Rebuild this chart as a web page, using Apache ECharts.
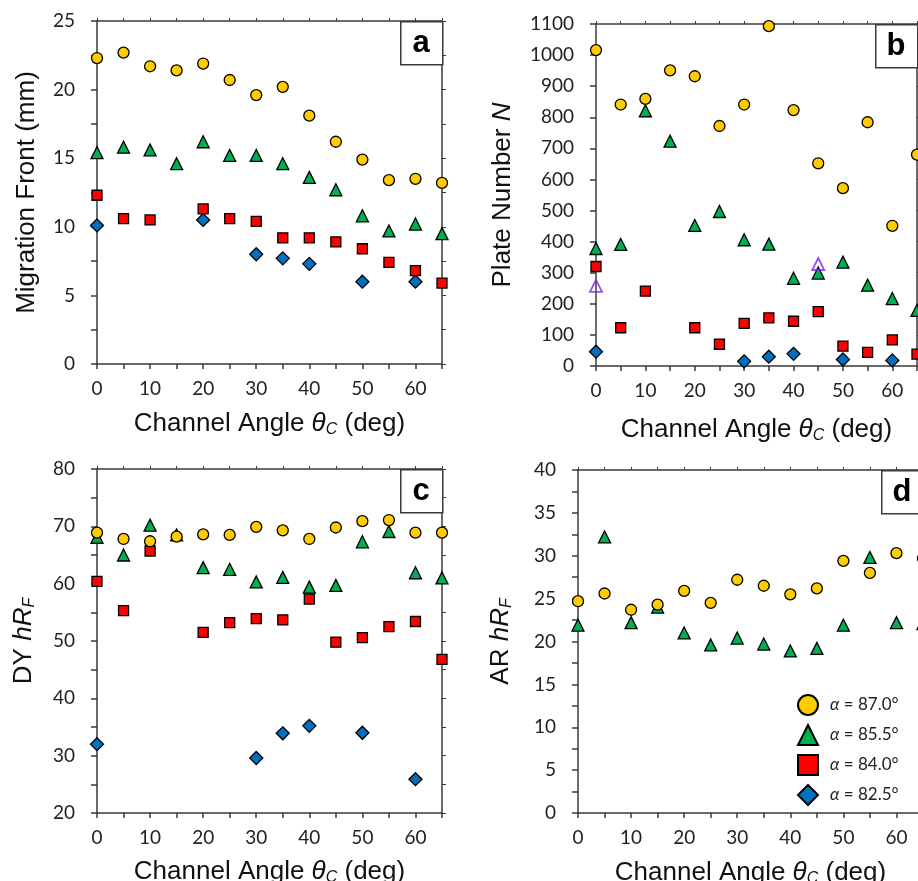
<!DOCTYPE html>
<html>
<head>
<meta charset="utf-8">
<script src="https://cdn.jsdelivr.net/npm/echarts@6/dist/echarts.min.js"></script>
<style>
  html, body { margin: 0; padding: 0; background: #fff; }
  #main { width: 918px; height: 881px; }
</style>
</head>
<body>
<div id="main"></div>
<script>
// channel angle (deg), shared x values of every panel
var ANGLES = [0, 5, 10, 15, 20, 25, 30, 35, 40, 45, 50, 55, 60, 65];
var NAMES = ['α = 87.0°', 'α = 85.5°', 'α = 84.0°', 'α = 82.5°'];

// a: migration front (mm)
var A_870 = [22.3, 22.7, 21.7, 21.4, 21.9, 20.7, 19.6, 20.2, 18.1, 16.2, 14.9, 13.4, 13.5, 13.2];
var A_855 = [15.4, 15.8, 15.6, 14.6, 16.2, 15.2, 15.2, 14.6, 13.6, 12.7, 10.8, 9.7, 10.2, 9.5];
var A_840 = [12.3, 10.6, 10.5, null, 11.3, 10.6, 10.4, 9.2, 9.2, 8.9, 8.4, 7.4, 6.8, 5.9];
var A_825 = [10.1, null, null, null, 10.5, null, 8.0, 7.7, 7.3, null, 6.0, null, 6.0, null];

// b: plate number N
var B_870 = [1016, 841, 859, 951, 932, 772, 841, 1093, 823, 652, 572, 784, 451, 680];
var B_855 = [378, 391, 821, 723, 452, 497, 406, 392, 282, 299, 334, 260, 217, 179];
var B_840 = [320, 123, 241, null, 123, 70, 137, 155, 144, 175, 64, 44, 84, 38];
var B_825 = [46, null, null, null, null, null, 15, 30, 39, null, 21, null, 18, null];
var B_OPEN_X = [0, 45];
var B_OPEN = [258, 328];

// c: DY hRF
var C_870 = [68.9, 67.8, 67.4, 68.2, 68.6, 68.5, 69.9, 69.3, 67.8, 69.8, 70.9, 71.1, 68.9, 68.9];
var C_855 = [68.1, 65.0, 70.2, 68.5, 62.8, 62.5, 60.3, 61.1, 59.4, 59.7, 67.3, 69.1, 61.9, 61.0];
var C_840 = [60.4, 55.3, 65.7, null, 51.5, 53.2, 53.9, 53.7, 57.3, 49.8, 50.6, 52.5, 53.4, 46.8];
var C_825 = [32.0, null, null, null, null, null, 29.6, 33.9, 35.2, null, 34.0, null, 25.9, null];

// d: AR hRF
var D_870 = [24.7, 25.6, 23.7, 24.3, 25.9, 24.5, 27.2, 26.5, 25.5, 26.2, 29.4, 28.0, 30.3, 29.7];
var D_855 = [21.9, 32.2, 22.2, 24.0, 21.0, 19.6, 20.4, 19.7, 18.9, 19.2, 21.9, 29.8, 22.2, 22.1];

var AXIS_COLOR = '#3a3a3a';
var TICK_FONT = 'Lato';
var TITLE_FONT = 'Liberation Sans';

var grids = [
    {left: 97, top: 21, width: 345, height: 343},
    {left: 596, top: 24, width: 321, height: 342},
    {left: 97, top: 469, width: 345, height: 344},
    {left: 578, top: 470, width: 345, height: 343}
];

var nameRich = {
    i: {fontStyle: 'italic', fontFamily: TITLE_FONT, fontSize: 26, color: '#111'},
    sub: {fontStyle: 'italic', fontFamily: TITLE_FONT, fontSize: 16, color: '#111', padding: [12, 0, 0, 0]}
};

function pairs(xs, ys) {
    var out = [];
    for (var k = 0; k < xs.length; k++) {
        if (ys[k] !== null) out.push([xs[k], ys[k]]);
    }
    return out;
}

var xAxes = [], yAxes = [];
var yCfg = [
    {min: 0, max: 25, step: 2.5, label: 5, name: 'Migration Front (mm)', gap: 57},
    {min: 0, max: 1100, step: 100, label: 100, name: 'Plate Number {i|N}', gap: 80},
    {min: 20, max: 80, step: 5, label: 10, name: 'DY {i|hR}{sub|F}', gap: 59},
    {min: 0, max: 40, step: 2.5, label: 5, name: 'AR {i|hR}{sub|F}', gap: 63}
];
var xGaps = [46, 50, 45, 46];

yCfg.forEach(function (c, g) {
    xAxes.push({
        type: 'value', gridIndex: g, position: 'bottom', min: 0, max: 65, interval: 5,
        name: 'Channel Angle {i|θ}{sub|C} (deg)', nameLocation: 'middle', nameGap: xGaps[g],
        nameMoveOverlap: false,
        nameTextStyle: {fontFamily: TITLE_FONT, fontSize: 26, color: '#111', rich: nameRich},
        axisLine: {show: true, onZero: false, lineStyle: {color: AXIS_COLOR, width: 1.5}},
        axisTick: {show: true, inside: false, length: 5, lineStyle: {color: AXIS_COLOR, width: 1.5}},
        axisLabel: {
            show: true, margin: 15, fontFamily: TICK_FONT, fontSize: 19, color: '#222',
            formatter: function (v) { return v % 10 === 0 ? String(v) : ''; }
        },
        splitLine: {show: false}
    });
    xAxes.push({
        type: 'value', gridIndex: g, position: 'top', min: 0, max: 65, interval: 5,
        axisLine: {show: true, onZero: false, lineStyle: {color: AXIS_COLOR, width: 1.5}},
        axisTick: {show: true, inside: false, length: 3, lineStyle: {color: AXIS_COLOR, width: 1}},
        axisLabel: {show: false},
        splitLine: {show: false}
    });
    yAxes.push({
        type: 'value', gridIndex: g, position: 'left', min: c.min, max: c.max, interval: c.step,
        name: c.name, nameLocation: 'middle', nameGap: c.gap, nameRotate: 90,
        nameMoveOverlap: false,
        nameTextStyle: {fontFamily: TITLE_FONT, fontSize: 26, color: '#111', rich: nameRich},
        axisLine: {show: true, onZero: false, lineStyle: {color: AXIS_COLOR, width: 1.5}},
        axisTick: {show: true, inside: false, length: 6, lineStyle: {color: AXIS_COLOR, width: 1.5}},
        axisLabel: {
            show: true, margin: 22, fontFamily: TICK_FONT, fontSize: 19, color: '#222',
            formatter: function (v) {
                return Math.abs(v / c.label - Math.round(v / c.label)) < 1e-6 ? String(v) : '';
            }
        },
        splitLine: {show: false}
    });
    yAxes.push({
        type: 'value', gridIndex: g, position: 'right', min: c.min, max: c.max, interval: c.step,
        axisLine: {show: true, onZero: false, lineStyle: {color: AXIS_COLOR, width: 1.5}},
        axisTick: {show: true, inside: false, length: 4, lineStyle: {color: AXIS_COLOR, width: 1}},
        axisLabel: {show: false},
        splitLine: {show: false}
    });
});

var styles = [
    {symbol: 'circle', size: 11, color: '#FFCC00'},
    {symbol: 'triangle', size: 12, color: '#00B050'},
    {symbol: 'rect', size: 10, color: '#FF0000'},
    {symbol: 'diamond', size: 13, color: '#0070C0'}
];

function scatter(g, k, values) {
    var s = styles[k];
    return {
        type: 'scatter', name: NAMES[k], xAxisIndex: 2 * g, yAxisIndex: 2 * g,
        symbol: s.symbol, symbolSize: s.size, z: 10 - k,
        itemStyle: {color: s.color, borderColor: '#000', borderWidth: 1.3, opacity: 1},
        emphasis: {disabled: true},
        data: pairs(ANGLES, values)
    };
}

var panels = [
    [A_870, A_855, A_840, A_825],
    [B_870, B_855, B_840, B_825],
    [C_870, C_855, C_840, C_825],
    [D_870, D_855]
];

var series = [];
panels.forEach(function (sets, g) {
    // draw blue first so yellow ends on top
    for (var k = sets.length - 1; k >= 0; k--) {
        series.push(scatter(g, k, sets[k]));
    }
});
series.push({
    type: 'scatter', name: 'open', xAxisIndex: 2, yAxisIndex: 2,
    symbol: 'triangle', symbolSize: 12, z: 11,
    itemStyle: {color: 'rgba(0,0,0,0)', borderColor: '#7A22F0', borderWidth: 1.8},
    emphasis: {disabled: true},
    data: pairs(B_OPEN_X, B_OPEN)
});

// panel letter boxes in the upper right corner of each plot
var letters = ['a', 'b', 'c', 'd'];
var graphic = [];
grids.forEach(function (gr, g) {
    var x0 = gr.left + gr.width - 42;
    graphic.push({
        type: 'rect', left: x0, top: gr.top, z: 20,
        shape: {width: 42, height: 43},
        style: {fill: '#fff', stroke: AXIS_COLOR, lineWidth: 1.5}
    });
    graphic.push({
        type: 'text', x: x0 + 21, y: gr.top + 22, z: 21,
        style: {
            text: letters[g], fontFamily: TITLE_FONT, fontWeight: 'bold', fontSize: 31,
            fill: '#000', align: 'center', verticalAlign: 'middle'
        }
    });
});

var chart = echarts.init(document.getElementById('main'));
var option = {
    backgroundColor: '#fff',
    animation: false,
    grid: grids.map(function (gr) {
        return {left: gr.left, top: gr.top, width: gr.width, height: gr.height, outerBoundsMode: 'none'};
    }),
    xAxis: xAxes,
    yAxis: yAxes,
    legend: {
        data: [
            {name: NAMES[0], icon: 'circle'},
            {name: NAMES[1], icon: 'triangle'},
            {name: NAMES[2], icon: 'rect'},
            {name: NAMES[3], icon: 'diamond'}
        ],
        orient: 'vertical', left: 792, top: 689,
        itemWidth: 20, itemHeight: 20, itemGap: 8,
        selectedMode: false,
        formatter: function (name) { return '{i|α}' + name.slice(1); },
        textStyle: {
            fontFamily: TICK_FONT, fontSize: 17, color: '#222',
            rich: {i: {fontStyle: 'italic', fontFamily: TICK_FONT, fontSize: 17, color: '#222', padding: [0, 0, 0, 7]}}
        }
    },
    graphic: graphic,
    series: series
};
chart.setOption(option);
</script>
</body>
</html>
